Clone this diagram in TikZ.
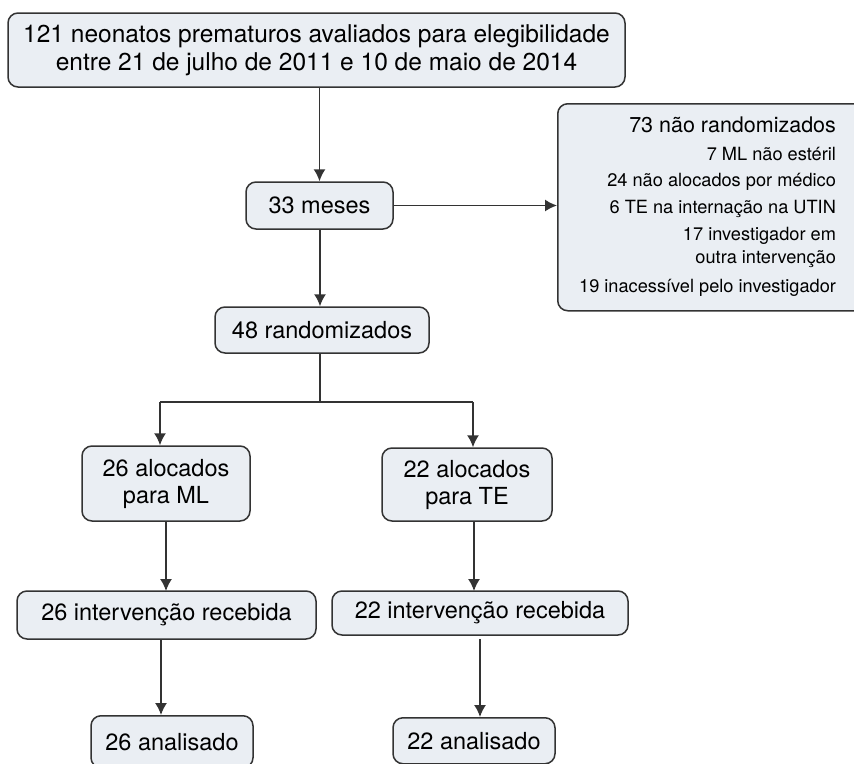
\documentclass[tikz,border=0pt]{standalone}
\usepackage{fontspec}
\setmainfont{TeX Gyre Heros}
\usetikzlibrary{arrows.meta}

\definecolor{boxfill}{RGB}{234,238,243}
\definecolor{boxline}{RGB}{51,51,51}

\begin{document}
\begin{tikzpicture}[
            x=1pt, y=-1pt,
            >={Latex[length=12pt,width=12pt]},
            line width=1.5pt, draw=boxline,
            box/.style={draw=boxline, fill=boxfill, rounded corners=10pt,
                        align=center, inner sep=0pt,
                        font=\fontsize{23.5}{27}\selectfont},
            small/.style={font=\fontsize{18.2}{22.5}\selectfont},
    ]
    \useasboundingbox (0,0) rectangle (854,763);
    \clip (0,0) rectangle (854,763);

    \node[box, minimum width=617pt, minimum height=74pt, font=\fontsize{24.5}{28}\selectfont] (eleg) at (316.5,50)
        {121 neonatos prematuros avaliados para elegibilidade\\
         entre 21 de julho de 2011 e 10 de maio de 2014};
    \node[box, minimum width=147pt, minimum height=47pt] (meses) at (319.5,205.5) {33 meses};
    \node[box, minimum width=330pt, minimum height=207pt, anchor=north west] (naorand) at (557,103) {};
    \node[anchor=east, align=right, small] (naotxt) at (840,207)
        {{\fontsize{21.5}{25}\selectfont 73 não randomizados}\\[5pt]
         7 ML não estéril\\[4pt]
         24 não alocados por médico\\[4pt]
         6 TE na internação na UTIN\\[5pt]
         17 investigador em\\
         outra intervenção\\[7pt]
         19 inacessível pelo investigador};
    \node[box, minimum width=214pt, minimum height=46pt] (rand) at (322,330) {48 randomizados};

    \node[box, minimum width=168pt, minimum height=75pt] (ml) at (166,483.5) {26 alocados\\para ML};
    \node[box, minimum width=170pt, minimum height=73pt] (te) at (467,484.5) {22 alocados\\para TE};
    \node[box, minimum width=299pt, minimum height=48pt] (int26) at (166.5,615) {26 intervenção recebida};
    \node[box, minimum width=296pt, minimum height=44pt] (int22) at (480,613) {22 intervenção recebida};
    \node[box, minimum width=162pt, minimum height=52pt, anchor=north] (an26) at (172,715) {26 analisado};
    \node[box, minimum width=162pt, minimum height=46pt, anchor=north] (an22) at (474,717) {22 analisado};

    \coordinate (split) at (320,402);
    \coordinate (jl) at (160,402);
    \coordinate (jr) at (473,402);

    \draw[->] (eleg.south -| meses.north) -- (meses.north);
    \draw[->] (meses.east) -- (meses.east -| naorand.west);
    \draw[->] (meses.south -| split) -- (rand.north -| split);
    \draw (rand.south -| split) -- (split);
    \draw (jl) -- (jr);
    \draw[->] (jl) -- (jl |- ml.north);
    \draw[->] (jr) -- (jr |- te.north);

    \draw[->] (166,521) -- (166,591);
    \draw[->] (474,521) -- (474,591);
    \draw[->] (161,639) -- (161,715);
    \draw[->] (480,639) -- (480,717);
\end{tikzpicture}
\end{document}
